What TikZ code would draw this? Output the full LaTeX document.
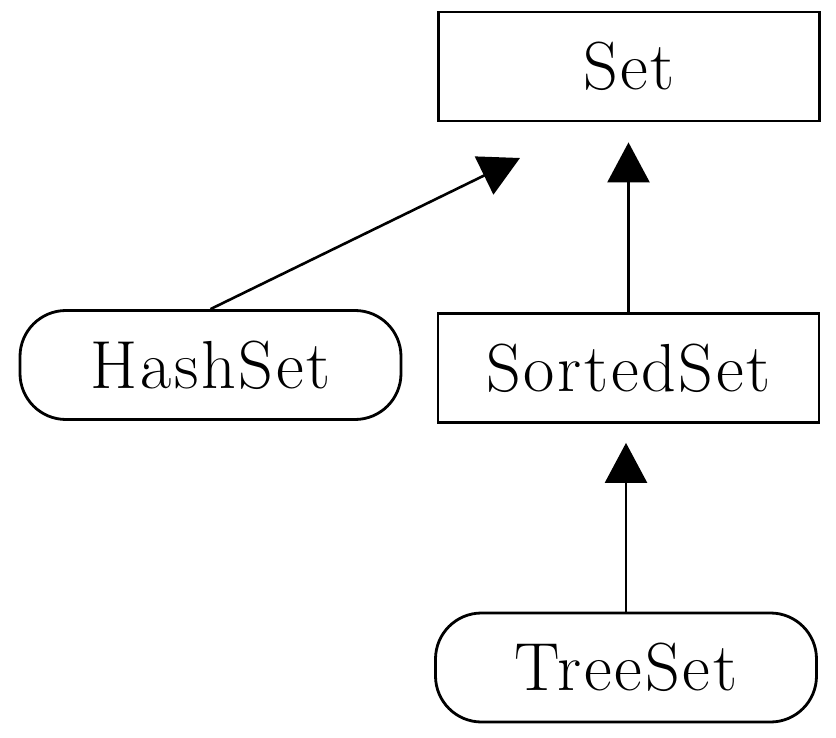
\documentclass[tikz,border=0pt]{standalone}
\usepackage{fontspec}
\newfontfamily\labelfont{Latin Modern Roman}[LetterSpace=4]
\usepackage{tikz}
\usetikzlibrary{arrows.meta}
\tikzset{
%Define standard arrow tip
>={Triangle[width=42pt,length=40pt]},
%Define styles for the boxes and the links
iface/.style={draw, line width=2.8pt, minimum width=381pt, minimum height=109pt,
  inner sep=0pt, font=\labelfont\fontsize{68}{74}\selectfont},
impl/.style={iface, rounded corners=46pt},
link/.style={->, line width=2.6pt}, }
\begin{document}
\begin{tikzpicture}[x=1pt,y=-1pt]
\useasboundingbox (0,0) rectangle (836,738);

\node[iface] (set) at (629,66.5) {Set};
\node[iface] (sorted) at (628.5,368) {SortedSet};
\node[impl] (hash) at (210.5,365) {HashSet};
\node[impl] (tree) at (626,667.5) {TreeSet};

\path coordinate (hashtip) at (520,158);

\draw[link] (hash.north) -- (hashtip);
\draw[link, shorten >=20pt] (sorted.north) -- (sorted.north |- set.south);
\draw[link, shorten >=19pt] (tree.north) -- (tree.north |- sorted.south);
\end{tikzpicture}
\end{document}
